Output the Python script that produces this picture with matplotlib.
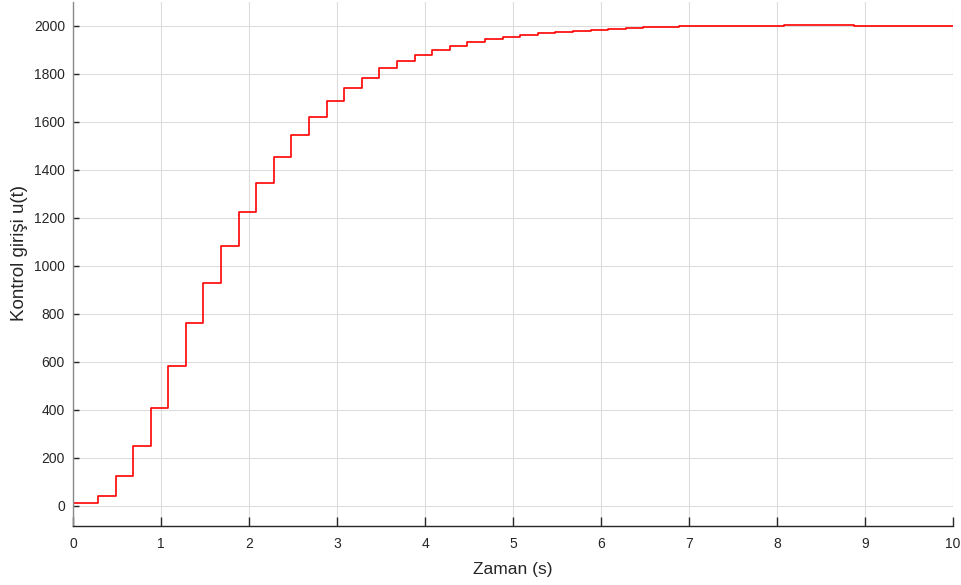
import matplotlib
matplotlib.use("Agg")
import matplotlib.pyplot as plt

plt.rcParams['font.family'] = ['Liberation Sans', 'DejaVu Sans']

# Zero-order-hold control input: switching instants (s) and held values
switch_times = [0.00, 0.28, 0.48, 0.68, 0.88, 1.08, 1.28, 1.48, 1.68, 1.88,
                2.08, 2.28, 2.48, 2.68, 2.88, 3.08, 3.28, 3.48, 3.68, 3.88,
                4.08, 4.28, 4.48, 4.68, 4.88, 5.08, 5.28, 5.48, 5.68, 5.88,
                6.08, 6.28, 6.48, 6.68, 6.88, 7.08, 7.28, 7.48, 7.68, 7.88,
                8.08, 8.28, 8.48, 8.68, 8.88, 9.08, 9.28, 9.48, 9.68, 9.88]
u_values = [11, 40, 121, 249, 407, 583, 760, 928, 1082, 1224,
            1345, 1451, 1542, 1618, 1685, 1738, 1782, 1821, 1851, 1878,
            1897, 1915, 1930, 1943, 1954, 1960, 1967, 1973, 1978, 1982,
            1986, 1989, 1992, 1994, 1996, 1997, 1998, 1999, 2000, 2000,
            2001, 2001, 2001, 2001, 2000, 2000, 2000, 1999, 1999, 1998]
t_end = 10.0

x_ticks = [0, 1, 2, 3, 4, 5, 6, 7, 8, 9, 10]
y_ticks = [0, 200, 400, 600, 800, 1000, 1200, 1400, 1600, 1800, 2000]

fig = plt.figure(figsize=(9.62, 5.85), dpi=100)
ax = fig.add_axes([0.0762, 0.1014, 0.9144, 0.896])

ax.step(switch_times + [t_end], u_values + [u_values[-1]], where='post',
        color='#ff0000', linewidth=1.2)

ax.set_xlim(0, 10)
ax.set_ylim(-84, 2100)
ax.set_xticks(x_ticks)
ax.set_yticks(y_ticks)

ax.grid(True, color='#dcdcdc', linewidth=0.8)
ax.set_axisbelow(True)

for side in ('top', 'right'):
    ax.spines[side].set_visible(False)
ax.spines['bottom'].set_color('#262626')
ax.spines['left'].set_color('#8a8a8a')
ax.spines['bottom'].set_linewidth(1.0)
ax.spines['left'].set_linewidth(1.0)

ax.tick_params(axis='x', direction='in', length=6.5, width=1.0,
               color='#262626', labelcolor='#262626', labelsize=10, pad=8)
ax.tick_params(axis='y', direction='in', length=4.3, width=1.0,
               color='#262626', labelcolor='#262626', labelsize=10, pad=6)

ax.set_xlabel('Zaman (s)', fontsize=12.5, color='#262626', labelpad=8)
ax.set_ylabel('Kontrol girişi u(t)', fontsize=13.5, color='#262626')
ax.yaxis.set_label_coords(-0.0515, 0.52)

fig.savefig('out.png', dpi=100)
